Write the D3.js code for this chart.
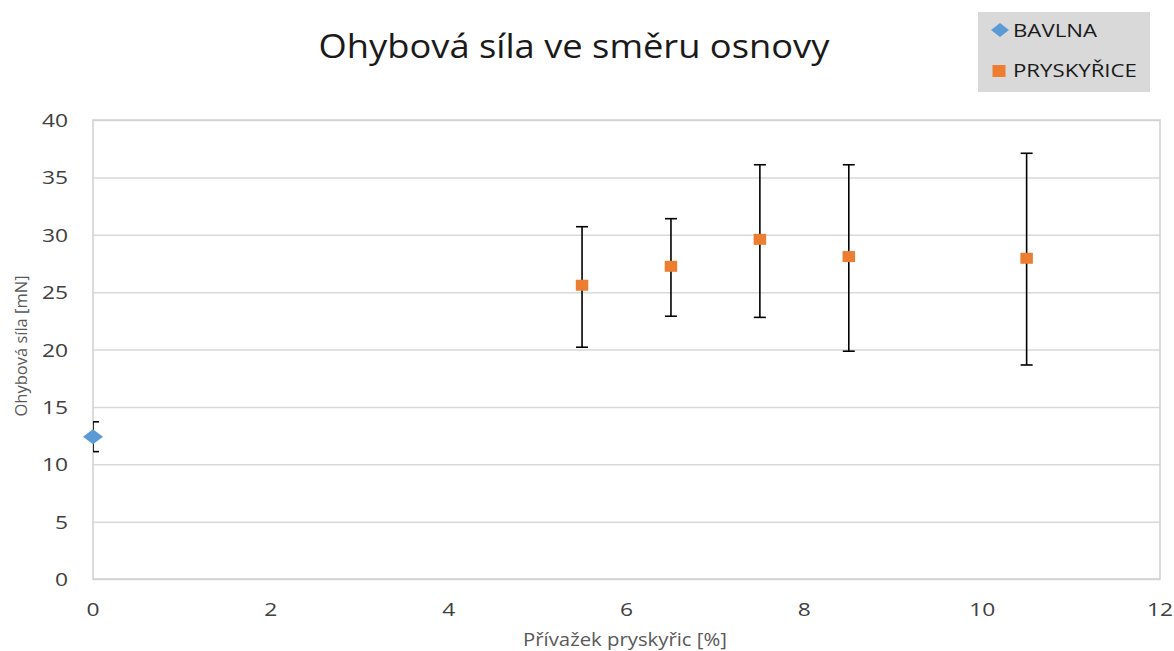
<!DOCTYPE html>
<html>
<head>
<meta charset="utf-8">
<script src="https://cdn.jsdelivr.net/npm/d3@7/dist/d3.min.js"></script>
<style>
  html, body { margin: 0; padding: 0; background: #fff; }
  svg { display: block; font-family: "Open Sans", sans-serif; }
</style>
</head>
<body>
<svg id="chart" width="1174" height="651"></svg>
<script>
// ---- data ----
const titleText = "Ohybová síla ve směru osnovy";
const xAxisTitle = "Přívažek pryskyřic [%]";
const yAxisTitle = "Ohybová síla [mN]";
const xTicks = [0, 2, 4, 6, 8, 10, 12];
const yTicks = [0, 5, 10, 15, 20, 25, 30, 35, 40];

const seriesNames = ["BAVLNA", "PRYSKYŘICE"];
const bavlnaX = [0];
const bavlnaY = [12.4];
const bavlnaLow = [11.1];
const bavlnaHigh = [13.7];

const pryskyriceX = [5.5, 6.5, 7.5, 8.5, 10.5];
const pryskyriceY = [25.6, 27.25, 29.6, 28.1, 27.95];
const pryskyriceLow = [20.2, 22.9, 22.8, 19.85, 18.65];
const pryskyriceHigh = [30.7, 31.4, 36.1, 36.1, 37.1];

// ---- layout ----
const svg = d3.select("#chart");
const plot = { left: 93, right: 1160, top: 120, bottom: 579 };

const x = d3.scaleLinear().domain([0, 12]).range([plot.left, plot.right]);
const y = d3.scaleLinear().domain([0, 40]).range([plot.bottom, plot.top]);

// text helper: slightly wide rendering like the reference
function label(parent, tx, ty, str, size, sx, anchor, fill, rot) {
  return parent.append("text")
    .attr("transform", `translate(${tx},${ty})${rot ? ` rotate(${rot})` : ""} scale(${sx},1)`)
    .attr("text-anchor", anchor)
    .attr("font-size", size)
    .attr("fill", fill)
    .text(str);
}

svg.append("defs").append("clipPath").attr("id", "clip")
  .append("rect")
  .attr("x", plot.left).attr("y", plot.top - 30)
  .attr("width", plot.right - plot.left).attr("height", plot.bottom - plot.top + 60);

// gridlines
svg.append("g")
  .attr("transform", `translate(${plot.left},0)`)
  .call(d3.axisLeft(y).tickValues(yTicks).tickSize(-(plot.right - plot.left)).tickFormat(""))
  .call(g => g.select(".domain").remove())
  .call(g => g.selectAll("line").attr("stroke", "#d9d9d9").attr("stroke-width", 1.5));

// plot border
svg.append("rect")
  .attr("x", plot.left).attr("y", plot.top)
  .attr("width", plot.right - plot.left).attr("height", plot.bottom - plot.top)
  .attr("fill", "none").attr("stroke", "#cfcfcf").attr("stroke-width", 1.5);

// y tick labels
const yLab = svg.append("g").attr("class", "y-ticks");
yTicks.forEach(v => label(yLab, 68, y(v) + 7, d3.format("d")(v), 19, 1.2, "end", "#404040"));

// x tick labels
const xLab = svg.append("g").attr("class", "x-ticks");
xTicks.forEach(v => label(xLab, x(v), 616, d3.format("d")(v), 19, 1.2, "middle", "#404040"));

// titles
label(svg, 574, 58, titleText, 33, 1.1, "middle", "#1a1a1a");
label(svg, 625, 646, xAxisTitle, 19, 1.07, "middle", "#595959");
label(svg, 27, 346, yAxisTitle, 16.5, 1.0, "middle", "#595959", -90);

// error bars
function errorBars(xs, lows, highs) {
  const g = svg.append("g").attr("clip-path", "url(#clip)")
    .attr("stroke", "#000").attr("stroke-width", 1.6).attr("fill", "none");
  const cap = 6;
  xs.forEach((xv, i) => {
    const cx = x(xv);
    g.append("line").attr("x1", cx).attr("x2", cx).attr("y1", y(lows[i])).attr("y2", y(highs[i]));
    g.append("line").attr("x1", cx - cap).attr("x2", cx + cap).attr("y1", y(lows[i])).attr("y2", y(lows[i]));
    g.append("line").attr("x1", cx - cap).attr("x2", cx + cap).attr("y1", y(highs[i])).attr("y2", y(highs[i]));
  });
}
errorBars(bavlnaX, bavlnaLow, bavlnaHigh);
errorBars(pryskyriceX, pryskyriceLow, pryskyriceHigh);

// markers
const diamondPath = (w, h) => `M0,${-h / 2}L${w / 2},0L0,${h / 2}L${-w / 2},0Z`;
svg.append("g").selectAll("path").data(bavlnaX).join("path")
  .attr("transform", (d, i) => `translate(${x(d)},${y(bavlnaY[i])})`)
  .attr("d", diamondPath(20, 15))
  .attr("fill", "#5b9bd5");

svg.append("g").selectAll("rect").data(pryskyriceX).join("rect")
  .attr("x", d => x(d) - 6.25)
  .attr("y", (d, i) => y(pryskyriceY[i]) - 5.5)
  .attr("width", 12.5).attr("height", 11)
  .attr("fill", "#ed7d31");

// legend
const lg = svg.append("g");
lg.append("rect").attr("x", 978).attr("y", 12).attr("width", 172).attr("height", 80).attr("fill", "#d9d9d9");
lg.append("path")
  .attr("transform", "translate(1000,30)")
  .attr("d", diamondPath(18, 14))
  .attr("fill", "#5b9bd5");
lg.append("rect").attr("x", 992.5).attr("y", 65).attr("width", 13).attr("height", 12).attr("fill", "#ed7d31");
seriesNames.forEach((n, i) => label(lg, 1013, 37 + i * 40, n, 19, 1.17, "start", "#1a1a1a"));
</script>
</body>
</html>
